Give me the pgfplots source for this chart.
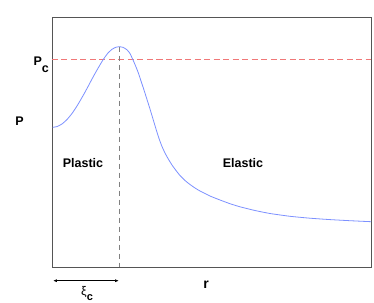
\documentclass[border=0pt]{standalone}
\usepackage{pgfplots}
\pgfplotsset{compat=1.18}
\usepackage{fontspec}
\setmainfont{Liberation Sans}
\usetikzlibrary{arrows.meta}
\definecolor{curveblue}{RGB}{125,145,255}
\definecolor{boxgray}{RGB}{85,85,85}
\definecolor{pcred}{RGB}{240,120,120}
\begin{document}
\begin{tikzpicture}
\useasboundingbox (-52bp,-36bp) rectangle (322bp,267bp);
\begin{axis}[
  scale only axis, width=319bp, height=250bp,
  xmin=52, xmax=371, ymin=17, ymax=267, y dir=reverse,
  axis line style={boxgray, line width=0.8bp},
  xtick=\empty, ytick=\empty,
  clip=false,
  font=\fontsize{12.5bp}{14bp}\selectfont\bfseries,
]
\addplot[pcred, line width=1.1bp, dashed, dash pattern=on 6bp off 3.5bp, mark=none, forget plot] table {
x y
52 59.5
371 59.5
};
\addplot[gray, line width=0.8bp, dash pattern=on 5bp off 4bp, mark=none] coordinates {(119,46.7) (119,267)};
\addplot[curveblue, line width=0.8bp, smooth, tension=0.3, mark=none] coordinates {
(52.7,127.3) (57,126.6) (62,124) (67,119.5) (72,113.5) (77,106) (82,97.5)
(87,88.5) (92,79) (97,70) (102,61.5) (105,57) (108,53) (112,49.3) (116,47.2)
(119,46.7) (123,47.3) (127,49.8) (130,53.5) (132.7,59.3) (135,64.5) (138,72)
(141,81) (144,90) (147,99.5) (150,109) (153,119) (156,129) (159,138.5)
(162,146.5) (165,153) (168,158.5) (172,165) (176,170.5) (180,175.5)
(185,180.5) (190,184.5) (195,188) (200,191) (210,196) (220,200) (230,203.7)
(240,206.8) (255,210.5) (270,213.5) (290,216.3) (310,218.2) (330,219.6)
(350,220.7) (371,221.7)};
\node at (axis cs:83,163) {Plastic};
\node at (axis cs:243,163) {Elastic};
\node at (axis cs:19.5,121) {P};
\node[anchor=base west] at (axis cs:30,65.5) {P\raisebox{-1.1ex}{c}};
\node at (axis cs:206,285) {\fontsize{14bp}{16bp}\selectfont r};
\draw[black, line width=0.7bp, {Latex[length=4bp,width=3bp]}-{Latex[length=4bp,width=3bp]}] (axis cs:53,280.7) -- (axis cs:119,280.7);
\node[anchor=base west, inner sep=0pt] at (axis cs:81,295) {\mdseries ξ\raisebox{-0.9ex}{\bfseries\fontsize{11bp}{12bp}\selectfont c}};
\end{axis}
\end{tikzpicture}
\end{document}
